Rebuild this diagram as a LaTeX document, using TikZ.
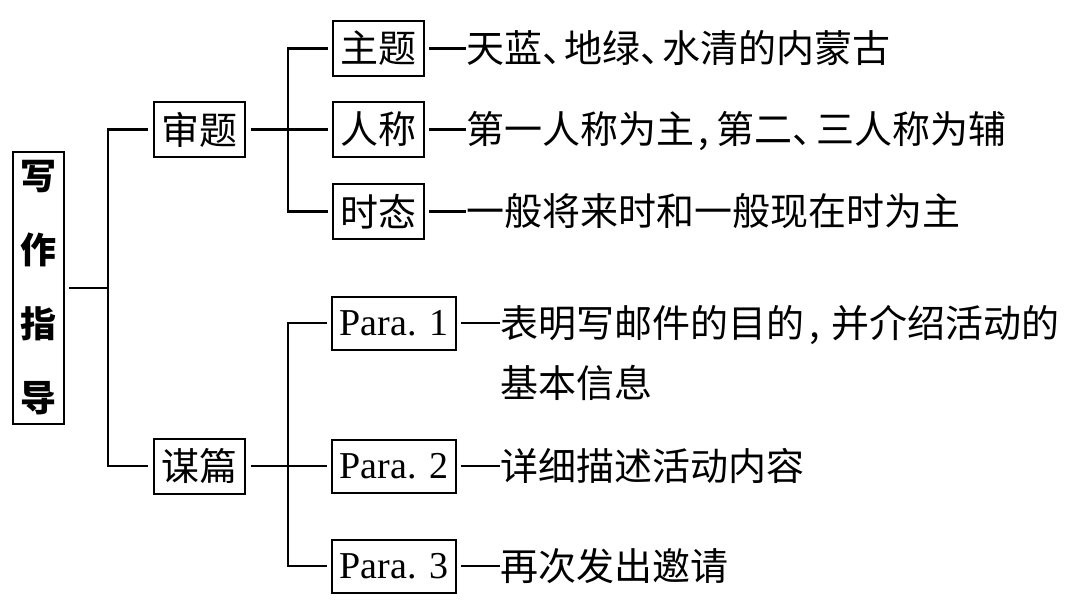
\documentclass[tikz,border=0pt]{standalone}
\usepackage{fontspec}
\newfontfamily\cjk{Noto Sans CJK SC}
\newfontfamily\serifen{Liberation Serif}
\begin{document}
\begin{tikzpicture}[x=1pt,y=-1pt,
  conn/.style={line width=2.2pt},
  boxlabel/.style={draw, line width=2pt, minimum width=91pt, minimum height=55pt, inner sep=0pt, font=\cjk\fontsize{38}{44}\selectfont},
  parabox/.style={draw, line width=2pt, minimum width=124pt, minimum height=53pt, inner sep=0pt, font=\serifen\fontsize{38}{44}\selectfont},
  desc/.style={anchor=west, inner sep=0pt, text height=33.4pt, text depth=4.6pt, font=\cjk\fontsize{38}{44}\selectfont},
  rootbox/.style={draw, line width=2pt, minimum width=51pt, minimum height=272pt, inner sep=0pt, align=center, font=\cjk\bfseries\fontsize{36}{74}\selectfont}]
\useasboundingbox (0,0) rectangle (1080,600);
\node[rootbox] (root) at (38.5,288) {写\\作\\指\\导};
\node[boxlabel] (shen) at (199,129.5) {审题};
\node[boxlabel] (mou) at (199,466) {谋篇};
\node[boxlabel] (zhuti) at (378.5,48.5) {主题};
\node[boxlabel] (renc) at (378.5,129.5) {人称};
\node[boxlabel] (shit) at (378.5,211.5) {时态};
\node[parabox] (p1) at (394,323) {Para. 1};
\node[parabox] (p2) at (394,466) {Para. 2};
\node[parabox] (p3) at (394,566) {Para. 3};
\node[desc] (d1) at (466,48.5) {天蓝、\kern-16pt 地绿、\kern-16pt 水清的内蒙古};
\node[desc] (d2) at (466,129.5) {第一人称为主\kern4pt,\kern8pt 第二、\kern-14pt 三人称为辅};
\node[desc] (d3) at (466,211.5) {一般将来时和一般现在时为主};
\node[desc] (d4) at (500,323) {表明写邮件的目的\kern5pt,\kern12pt 并介绍活动的};
\node[desc] (d4b) at (500,383) {基本信息};
\node[desc] (d5) at (500,466) {详细描述活动内容};
\node[desc] (d6) at (500,566) {再次发出邀请};
\coordinate (j1) at (108,288);
\coordinate (j2) at (288,129.5);
\coordinate (j3) at (288,466);
\draw[conn, shorten <=4pt] (root.east) -- (j1);
\draw[conn, shorten >=5pt] (j1) |- (shen.west);
\draw[conn, shorten >=5pt] (j1) |- (mou.west);
\draw[conn, shorten <=5pt, shorten >=4pt] (shen.east) -- (renc.west);
\draw[conn, shorten >=4pt] (j2) |- (zhuti.west);
\draw[conn, shorten >=4pt] (j2) |- (shit.west);
\draw[conn, shorten <=5pt, shorten >=4pt] (mou.east) -- (p2.west);
\draw[conn, shorten >=4pt] (j3) |- (p1.west);
\draw[conn, shorten >=4pt] (j3) |- (p3.west);
\draw[conn, shorten <=4pt] (zhuti.east) -- (d1.west);
\draw[conn, shorten <=4pt] (renc.east) -- (d2.west);
\draw[conn, shorten <=4pt] (shit.east) -- (d3.west);
\draw[conn, shorten <=4pt] (p1.east) -- (d4.west);
\draw[conn, shorten <=4pt] (p2.east) -- (d5.west);
\draw[conn, shorten <=4pt] (p3.east) -- (d6.west);
\end{tikzpicture}
\end{document}
